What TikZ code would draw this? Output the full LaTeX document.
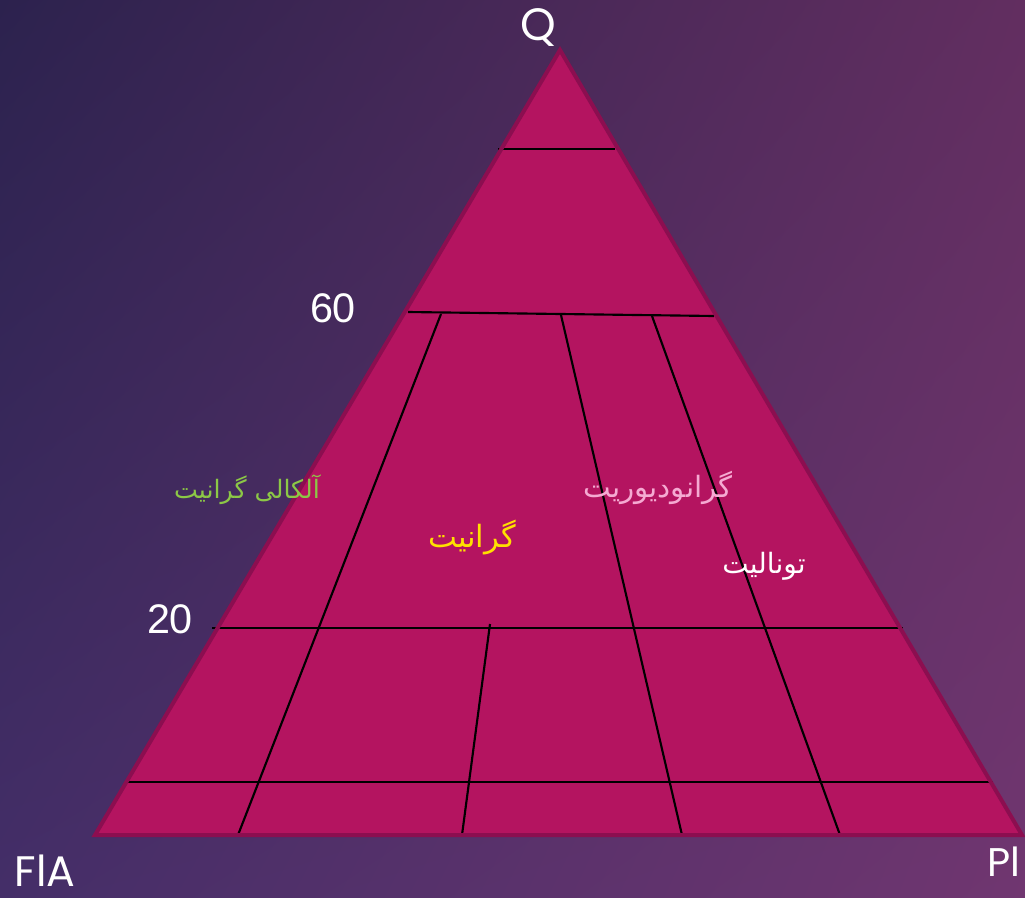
\documentclass[tikz,border=0pt]{standalone}
\usepackage{fontspec}
\usetikzlibrary{shadings}
\setmainfont{Liberation Sans}
\newfontfamily\geofont{Poppins}
\newfontfamily\arabicfont[Script=Arabic]{DejaVu Sans}
\TeXXeTstate=1
\definecolor{bgUL}{RGB}{44,34,78}
\definecolor{bgUR}{RGB}{98,46,96}
\definecolor{bgLL}{RGB}{68,46,104}
\definecolor{bgLR}{RGB}{112,54,112}
\definecolor{trifill}{RGB}{180,20,96}
\definecolor{triedge}{RGB}{140,14,80}
\definecolor{lblgreen}{RGB}{140,200,70}
\definecolor{lblpink}{RGB}{245,170,210}
\definecolor{lblyellow}{RGB}{255,225,0}
\tikzset{
  divline/.style={black, line width=1.6pt},
  corner/.style={text=white, font=\geofont\fontsize{34}{36}\selectfont, inner sep=0pt},
  tick/.style={text=white, font=\fontsize{31}{34}\selectfont, inner sep=0pt},
  fa/.style={inner sep=0pt, font=\arabicfont\fontsize{20}{24}\selectfont},
}
\begin{document}
\begin{tikzpicture}[x=0.75pt,y=-0.75pt]
\useasboundingbox (0,0) rectangle (1025,897);
\shade[upper left=bgUL, upper right=bgUR, lower left=bgLL, lower right=bgLR] (0,0) rectangle (1025,897);
% triangle
\coordinate (Q) at (560,50);
\coordinate (F) at (95,835);
\coordinate (P) at (1022,835);
\fill[trifill] (Q) -- (F) -- (P) -- cycle;
% division lines
\coordinate (a1) at (498,149); \coordinate (a2) at (615,149);
\coordinate (b1) at (408,312); \coordinate (b2) at (714,316);
\coordinate (c1) at (212,628); \coordinate (c2) at (903,628);
\coordinate (d1) at (125,782); \coordinate (d2) at (993,782);
\coordinate (e1) at (441,314); \coordinate (e2) at (238,835);
\coordinate (f1) at (561,315); \coordinate (f2) at (682,835);
\coordinate (g1) at (652,316); \coordinate (g2) at (840,835);
\coordinate (h1) at (490,624); \coordinate (h2) at (462,835);
\draw[divline] (a1) -- (a2);
\draw[divline] (b1) -- (b2);
\draw[divline] (c1) -- (c2);
\draw[divline] (d1) -- (d2);
\draw[divline] (e1) -- (e2);
\draw[divline] (f1) -- (f2);
\draw[divline] (g1) -- (g2);
\draw[divline] (h1) -- (h2);
\draw[triedge, line width=3pt, line join=miter] (Q) -- (F) -- (P) -- cycle;
% labels
\node[corner] (lq) at (538,28) {Q};
\node[corner, anchor=base, font=\geofont\fontsize{32}{34}\selectfont] (lf) at (45,886) {FlA};
\node[corner, anchor=base, font=\geofont\fontsize{30}{32}\selectfont] (lp) at (1004,876) {Pl};
\node[tick] (l60) at (333,308) {60};
\node[tick] (l20) at (170,619) {20};
\node[fa, text=lblgreen, font=\arabicfont\fontsize{19}{24}\selectfont] (alk) at (247,490) {\beginR آلکالی گرانیت\endR};
\node[fa, text=lblpink, font=\arabicfont\fontsize{22}{26}\selectfont] (grd) at (658,488) {\beginR گرانودیوریت\endR};
\node[fa, text=lblyellow, font=\arabicfont\fontsize{23}{28}\selectfont] (gr) at (472,537) {\beginR گرانیت\endR};
\node[fa, text=white, font=\arabicfont\fontsize{21}{24}\selectfont] (ton) at (764,566) {\beginR تونالیت\endR};
\end{tikzpicture}
\end{document}
